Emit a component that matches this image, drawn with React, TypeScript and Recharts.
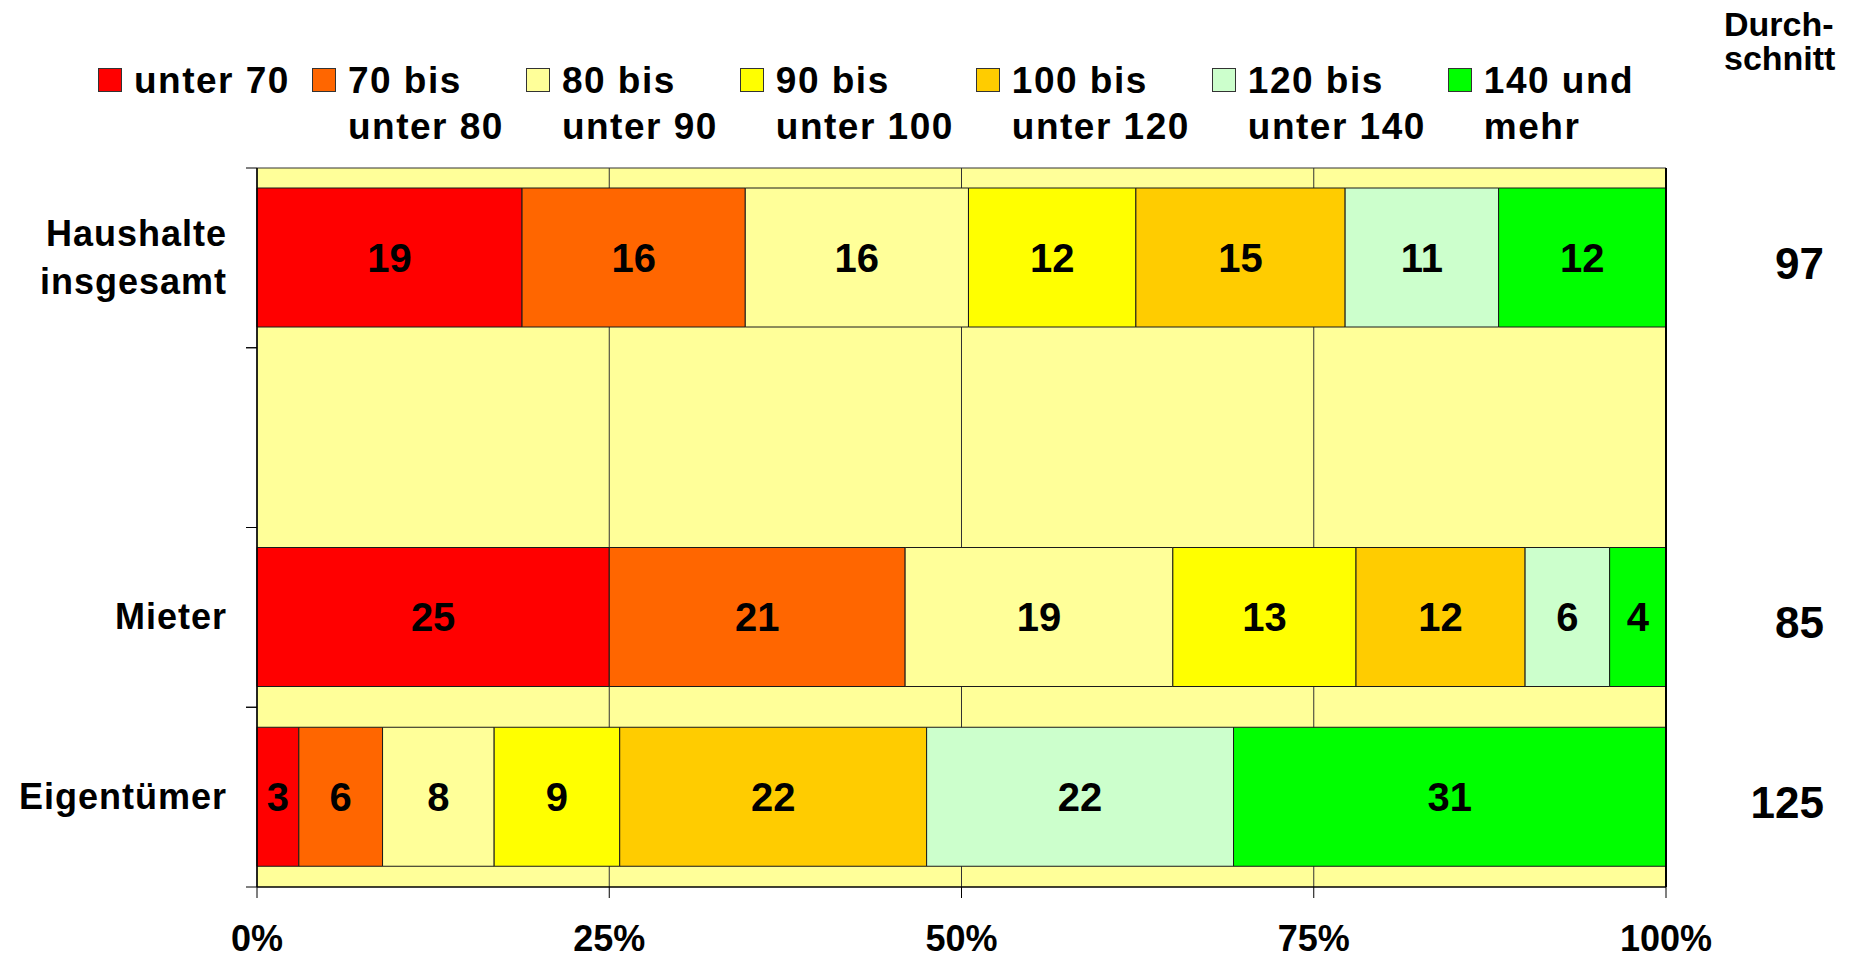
import React from 'react'
import {
  Bar,
  BarChart,
  CartesianGrid,
  LabelList,
  Legend,
  XAxis,
  YAxis,
} from 'recharts'

// Wohnfläche je Haushalt (m²), Anteile in %
const categories = ['Haushalte\ninsgesamt', '', 'Mieter', 'Eigentümer']

const unter70 = [19, null, 25, 3]
const bis80 = [16, null, 21, 6]
const bis90 = [16, null, 19, 8]
const bis100 = [12, null, 13, 9]
const bis120 = [15, null, 12, 22]
const bis140 = [11, null, 6, 22]
const ab140 = [12, null, 4, 31]

const durchschnitt = [97, null, 85, 125]

const seriesNames = [
  'unter 70',
  '70 bis\nunter 80',
  '80 bis\nunter 90',
  '90 bis\nunter 100',
  '100 bis\nunter 120',
  '120 bis\nunter 140',
  '140 und\nmehr',
]
const seriesColors = ['#ff0000', '#ff6600', '#ffff99', '#ffff00', '#ffcc00', '#ccffcc', '#00ff00']
const xTicks = [0, 0.25, 0.5, 0.75, 1]

const seriesValues = [unter70, bis80, bis90, bis100, bis120, bis140, ab140]
const keys = seriesValues.map((_, i) => `s${i}`)

const data = categories.map((name, row) => {
  const entry: Record<string, any> = { name, avg: durchschnitt[row] }
  seriesValues.forEach((vals, i) => {
    entry[keys[i]] = vals[row]
  })
  return entry
})

const W = 1851
const H = 960
const FONT = '"Liberation Sans", Arial, sans-serif'

function CategoryTick({ x, y, payload }: any) {
  const half = payload?.offset ?? 90
  const lines = String(payload.value).split('\n').filter((l) => l !== '')
  return (
    <g>
      <line x1={x - 11} x2={x} y1={y - half} y2={y - half} stroke="#000" />
      <line x1={x - 11} x2={x} y1={y + half} y2={y + half} stroke="#000" />
      <text
        textAnchor="end"
        fontFamily={FONT}
        fontWeight="bold"
        fontSize={36}
        letterSpacing={1}
        fill="#000"
      >
        {lines.map((l, i) => (
          <tspan key={i} x={x - 30} y={y + (i - (lines.length - 1) / 2) * 48 + 12}>
            {l}
          </tspan>
        ))}
      </text>
    </g>
  )
}

function AvgTick({ x, y, payload }: any) {
  const row = data.find((d) => d.name === payload.value)
  if (!row || row.avg == null) return null
  return (
    <text
      x={x + 158}
      y={y + 21}
      textAnchor="end"
      fontFamily={FONT}
      fontWeight="bold"
      fontSize={44}
      fill="#000"
    >
      {String(row.avg)}
    </text>
  )
}

function PercentTick({ x, y, payload }: any) {
  return (
    <text
      x={x}
      y={y + 53}
      textAnchor="middle"
      fontFamily={FONT}
      fontWeight="bold"
      fontSize={36}
      fill="#000"
    >
      {`${Math.round(payload.value * 100)}%`}
    </text>
  )
}

function LegendContent({ payload }: any) {
  const items = [...(payload || [])].sort(
    (a: any, b: any) => keys.indexOf(a.dataKey) - keys.indexOf(b.dataKey)
  )
  return (
    <div style={{ position: 'relative', width: W, height: 0, fontFamily: FONT, fontWeight: 'bold' }}>
      <div style={{ position: 'absolute', left: 98, top: 58, display: 'flex', gap: 22 }}>
        {items.map((entry: any, i: number) => (
          <div key={i} style={{ display: 'flex', alignItems: 'flex-start' }}>
            <span
              style={{
                width: 24,
                height: 24,
                marginTop: 10,
                background: entry.color,
                border: '1px solid #333',
                boxSizing: 'border-box',
                flex: 'none',
              }}
            />
            <div
              style={{
                marginLeft: 12,
                fontSize: 37,
                lineHeight: '46px',
                letterSpacing: 1.5,
                whiteSpace: 'pre',
                color: '#000',
                textAlign: 'left',
              }}
            >
              {entry.value}
            </div>
          </div>
        ))}
      </div>
      <div
        style={{
          position: 'absolute',
          left: 1724,
          top: 7,
          fontSize: 34,
          lineHeight: '34px',
          color: '#000',
          whiteSpace: 'pre',
          textAlign: 'left',
        }}
      >
        {'Durch-\nschnitt'}
      </div>
    </div>
  )
}

export default function App() {
  return (
    <div style={{ position: 'absolute', left: 0, top: 0, width: W, height: H, background: '#fff' }}>
      <BarChart
        width={W}
        height={H}
        data={data}
        layout="vertical"
        stackOffset="expand"
        margin={{ top: 168, right: 0, bottom: 0, left: 0 }}
      >
        <CartesianGrid
          fill="#ffff99"
          fillOpacity={1}
          stroke="#333"
          horizontalCoordinatesGenerator={({ offset }: any) => [offset.top]}
        />
        <XAxis
          type="number"
          domain={[0, 1]}
          ticks={xTicks}
          height={73}
          tickSize={11}
          tickMargin={0}
          axisLine={{ stroke: '#000', strokeWidth: 1.5 }}
          tickLine={{ stroke: '#000' }}
          tick={<PercentTick />}
          interval={0}
        />
        <YAxis
          type="category"
          dataKey="name"
          width={257}
          tickSize={0}
          tickMargin={0}
          axisLine={{ stroke: '#000', strokeWidth: 1.5 }}
          tickLine={false}
          tick={<CategoryTick />}
          interval={0}
        />
        <YAxis
          yAxisId="avg"
          orientation="right"
          type="category"
          dataKey="name"
          width={185}
          tickSize={0}
          tickMargin={0}
          axisLine={{ stroke: '#000', strokeWidth: 2 }}
          tickLine={false}
          tick={<AvgTick />}
          interval={0}
        />
        <Legend
          verticalAlign="top"
          content={<LegendContent />}
          wrapperStyle={{ top: 0, left: 0, width: W, height: 0, overflow: 'visible' }}
        />
        {keys.map((k, i) => (
          <Bar
            key={k}
            dataKey={k}
            name={seriesNames[i]}
            stackId="a"
            fill={seriesColors[i]}
            stroke="#1a1a1a"
            strokeWidth={1}
            barSize={139}
            isAnimationActive={false}
          >
            <LabelList
              dataKey={k}
              position="center"
              fill="#000"
              fontSize={40}
              fontWeight="bold"
              fontFamily={FONT}
            />
          </Bar>
        ))}
      </BarChart>
    </div>
  )
}
